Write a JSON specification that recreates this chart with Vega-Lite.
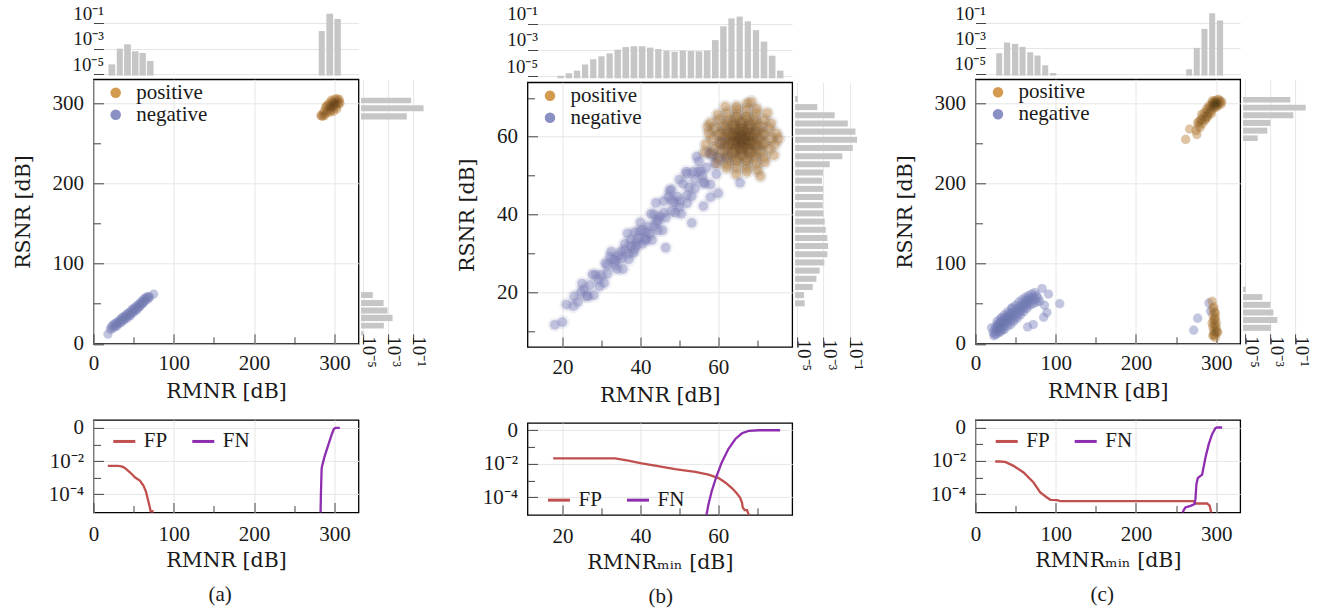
{
"$schema": "https://vega.github.io/schema/vega-lite/v6.json",
"padding": {"left": 11.5, "top": 4, "right": 5, "bottom": 5},
"background": "white",
"config": {
  "font": "Liberation Serif",
  "view": {"stroke": null},
  "axis": {"labelFont": "Liberation Serif", "titleFont": "DejaVu Serif", "labelFontSize": 21, "titleFontSize": 20.5, "titleFontWeight": "normal", "labelColor": "#1a1a1a", "titleColor": "#1a1a1a", "domain": false, "tickColor": "#444444", "gridColor": "#e6e6e6", "labelFlush": false, "labelOverlap": false},
  "legend": {"labelFont": "Liberation Serif", "labelFontSize": 21, "labelColor": "#1a1a1a", "padding": 0, "rowPadding": 0},
  "title": {"font": "Liberation Serif", "fontWeight": "normal", "fontSize": 21, "color": "#1a1a1a"}
},
"datasets": {
  "topA": [{"a":18.7,"b":27.1,"v":5.8e-5},{"a":29,"b":36.5,"v":1.0e-3},{"a":38.1,"b":46.5,"v":2.2e-3},{"a":47.8,"b":56.1,"v":6.2e-4},{"a":57.3,"b":65.2,"v":4.6e-4},{"a":66.5,"b":74.8,"v":1.07e-4},{"a":280.5,"b":288,"v":0.0245},{"a":290,"b":298.4,"v":0.575},{"a":300,"b":308,"v":0.219}],
  "rightA": [{"a":300,"b":307,"v":0.073},{"a":290,"b":297.5,"v":0.72},{"a":280,"b":287.5,"v":0.033},{"a":57.1,"b":64.5,"v":6.3e-5},{"a":47.1,"b":54.6,"v":4.6e-4},{"a":37.8,"b":45.3,"v":9.5e-4},{"a":28.3,"b":36.2,"v":2.4e-3},{"a":19.1,"b":26.2,"v":4.8e-4},{"a":10.4,"b":15.9,"v":1.1e-5}],
  "topB": [{"a":18.7,"b":20.35,"v":1.12e-5},{"a":20.8,"b":22.45,"v":1.7e-5},{"a":22.9,"b":24.55,"v":2.69e-5},{"a":25.0,"b":26.6,"v":7.76e-5},{"a":27.1,"b":28.7,"v":1.95e-4},{"a":29.2,"b":30.8,"v":3.31e-4},{"a":31.3,"b":32.9,"v":5.5e-4},{"a":33.35,"b":35.0,"v":1.05e-3},{"a":35.4,"b":37.1,"v":1.66e-3},{"a":37.5,"b":39.2,"v":1.91e-3},{"a":39.6,"b":41.3,"v":1.91e-3},{"a":41.7,"b":43.35,"v":1.51e-3},{"a":43.8,"b":45.4,"v":1.17e-3},{"a":45.9,"b":47.5,"v":8.9e-4},{"a":48.0,"b":49.6,"v":7.4e-4},{"a":50.1,"b":51.7,"v":8.9e-4},{"a":52.15,"b":53.8,"v":8.3e-4},{"a":54.2,"b":55.9,"v":7.9e-4},{"a":56.3,"b":58.0,"v":8.9e-4},{"a":58.4,"b":60.1,"v":5.6e-3},{"a":60.5,"b":62.15,"v":0.063},{"a":62.6,"b":64.2,"v":0.25},{"a":64.7,"b":66.3,"v":0.34},{"a":66.8,"b":68.4,"v":0.148},{"a":68.9,"b":70.5,"v":0.032},{"a":70.9,"b":72.6,"v":4.3e-3},{"a":73.0,"b":74.7,"v":3.7e-4},{"a":75.1,"b":76.75,"v":2.7e-5}],
  "rightB": [{"a":68.95,"b":70.5,"v":1.12e-5},{"a":66.85,"b":68.4,"v":3.47e-4},{"a":64.75,"b":66.3,"v":7.2e-3},{"a":62.65,"b":64.2,"v":0.071},{"a":60.55,"b":62.1,"v":0.27},{"a":58.45,"b":60.0,"v":0.36},{"a":56.35,"b":57.9,"v":0.17},{"a":54.25,"b":55.8,"v":0.0275},{"a":52.15,"b":53.7,"v":3.0e-3},{"a":50.05,"b":51.6,"v":9.3e-4},{"a":47.95,"b":49.5,"v":7.9e-4},{"a":45.85,"b":47.4,"v":9.3e-4},{"a":43.75,"b":45.3,"v":9.3e-4},{"a":41.65,"b":43.2,"v":8.9e-4},{"a":39.55,"b":41.1,"v":1.0e-3},{"a":37.45,"b":39.0,"v":1.26e-3},{"a":35.35,"b":36.9,"v":1.51e-3},{"a":33.25,"b":34.8,"v":2.0e-3},{"a":31.15,"b":32.7,"v":2.24e-3},{"a":29.05,"b":30.6,"v":2.0e-3},{"a":26.95,"b":28.5,"v":1.17e-3},{"a":24.85,"b":26.4,"v":5.2e-4},{"a":22.75,"b":24.3,"v":2.95e-4},{"a":20.65,"b":22.2,"v":1.55e-4},{"a":18.55,"b":20.1,"v":3.4e-5},{"a":16.45,"b":18.0,"v":3.8e-5}],
  "topC": [{"a":25.8,"b":33.3,"v":4.2e-4},{"a":35.4,"b":43.3,"v":3.0e-3},{"a":45.4,"b":53.3,"v":2.34e-3},{"a":54.9,"b":62.4,"v":1.35e-3},{"a":64.5,"b":72.0,"v":5.0e-4},{"a":73.6,"b":81.1,"v":2.75e-4},{"a":83.2,"b":90.7,"v":4.6e-5},{"a":92.8,"b":100.7,"v":1.12e-5},{"a":262.6,"b":270.1,"v":2.2e-5},{"a":272.1,"b":279.6,"v":1.12e-3},{"a":281.7,"b":289.2,"v":0.037},{"a":291.3,"b":298.8,"v":0.66},{"a":300.8,"b":308.7,"v":0.174}],
  "rightC": [{"a":300.9,"b":308,"v":0.042},{"a":291,"b":298.4,"v":0.71},{"a":281.3,"b":288.8,"v":0.072},{"a":271.8,"b":279.3,"v":1.05e-3},{"a":262.2,"b":269.7,"v":6.0e-4},{"a":253,"b":260,"v":1.02e-4},{"a":64.5,"b":71.2,"v":1.12e-5},{"a":54.6,"b":62,"v":2.4e-4},{"a":44.9,"b":52.4,"v":1.05e-3},{"a":35.3,"b":42.8,"v":1.82e-3},{"a":25.8,"b":33.3,"v":3.8e-3},{"a":16.2,"b":23.7,"v":1.2e-3}],
  "lineA": [
    {"x":17.8,"v":5.13e-3,"s":"FP"},{"x":30,"v":5.1e-3,"s":"FP"},{"x":33.2,"v":5.0e-3,"s":"FP"},{"x":36.5,"v":4.5e-3,"s":"FP"},{"x":39.4,"v":3.72e-3,"s":"FP"},{"x":45.7,"v":2.04e-3,"s":"FP"},{"x":51.9,"v":1.02e-3,"s":"FP"},{"x":58.1,"v":6.46e-4,"s":"FP"},{"x":62.3,"v":3.24e-4,"s":"FP"},{"x":65.2,"v":1.48e-4,"s":"FP"},{"x":67.7,"v":5.0e-5,"s":"FP"},{"x":70.2,"v":1.58e-5,"s":"FP"},{"x":71.4,"v":7.9e-6,"s":"FP"},{"x":72.2,"v":5e-6,"s":"FP"},{"x":73.1,"v":1.1e-5,"s":"FP"},{"x":74.8,"v":5e-6,"s":"FP"},
    {"x":282.4,"v":1e-6,"s":"FN"},{"x":283.2,"v":1e-4,"s":"FN"},{"x":284.1,"v":3.5e-3,"s":"FN"},{"x":284.7,"v":5.1e-3,"s":"FN"},{"x":287.6,"v":1.78e-2,"s":"FN"},{"x":293,"v":0.115,"s":"FN"},{"x":297.1,"v":0.46,"s":"FN"},{"x":299.2,"v":0.83,"s":"FN"},{"x":301.2,"v":1.0,"s":"FN"},{"x":306.7,"v":1.0,"s":"FN"}],
  "lineB": [
    {"x":17.6,"v":0.0209,"s":"FP"},{"x":33.5,"v":0.0209,"s":"FP"},{"x":36.9,"v":0.0151,"s":"FP"},{"x":40.3,"v":0.0105,"s":"FP"},{"x":43.8,"v":7.6e-3,"s":"FP"},{"x":48.9,"v":4.8e-3,"s":"FP"},{"x":54.1,"v":3.3e-3,"s":"FP"},{"x":57.5,"v":2.2e-3,"s":"FP"},{"x":60.1,"v":1.38e-3,"s":"FP"},{"x":61.8,"v":7.6e-4,"s":"FP"},{"x":63.5,"v":3.5e-4,"s":"FP"},{"x":64.8,"v":1.66e-4,"s":"FP"},{"x":65.6,"v":9.5e-5,"s":"FP"},{"x":66.1,"v":4.8e-5,"s":"FP"},{"x":66.3,"v":2.4e-5,"s":"FP"},{"x":66.8,"v":1.66e-5,"s":"FP"},{"x":67.4,"v":1.66e-5,"s":"FP"},{"x":67.8,"v":9.5e-6,"s":"FP"},{"x":68.2,"v":4.8e-6,"s":"FP"},
    {"x":56.7,"v":4e-6,"s":"FN"},{"x":57.5,"v":3.8e-5,"s":"FN"},{"x":58.35,"v":2.4e-4,"s":"FN"},{"x":59.6,"v":1.9e-3,"s":"FN"},{"x":60.9,"v":0.012,"s":"FN"},{"x":62.6,"v":0.076,"s":"FN"},{"x":64.4,"v":0.30,"s":"FN"},{"x":66.1,"v":0.66,"s":"FN"},{"x":67.8,"v":0.91,"s":"FN"},{"x":70.4,"v":1.0,"s":"FN"},{"x":75.9,"v":1.0,"s":"FN"}],
  "lineC": [
    {"x":24.6,"v":9.1e-3,"s":"FP"},{"x":30,"v":9.1e-3,"s":"FP"},{"x":37.1,"v":8.7e-3,"s":"FP"},{"x":47.4,"v":5.0e-3,"s":"FP"},{"x":59.9,"v":2.0e-3,"s":"FP"},{"x":72.4,"v":5.0e-4,"s":"FP"},{"x":80.7,"v":1.26e-4,"s":"FP"},{"x":89.1,"v":6.3e-5,"s":"FP"},{"x":93.2,"v":4.6e-5,"s":"FP"},{"x":101.6,"v":4.4e-5,"s":"FP"},{"x":105.7,"v":3.8e-5,"s":"FP"},{"x":272,"v":3.8e-5,"s":"FP"},{"x":274.2,"v":2.75e-5,"s":"FP"},{"x":288.8,"v":2.75e-5,"s":"FP"},{"x":292,"v":2.0e-5,"s":"FP"},{"x":293.8,"v":7.9e-6,"s":"FP"},{"x":294.5,"v":4e-6,"s":"FP"},
    {"x":257,"v":3e-6,"s":"FN"},{"x":258.3,"v":7.9e-6,"s":"FN"},{"x":259.6,"v":1.1e-5,"s":"FN"},{"x":261.7,"v":1.58e-5,"s":"FN"},{"x":267.9,"v":2.0e-5,"s":"FN"},{"x":272.9,"v":2.5e-5,"s":"FN"},{"x":274.2,"v":5.0e-5,"s":"FN"},{"x":275.4,"v":4.0e-4,"s":"FN"},{"x":277.1,"v":9.1e-4,"s":"FN"},{"x":280.4,"v":1.26e-3,"s":"FN"},{"x":282.5,"v":1.45e-3,"s":"FN"},{"x":286.7,"v":0.0158,"s":"FN"},{"x":290.8,"v":0.1,"s":"FN"},{"x":295,"v":0.4,"s":"FN"},{"x":299.1,"v":0.91,"s":"FN"},{"x":301.2,"v":1.0,"s":"FN"},{"x":307.5,"v":1.0,"s":"FN"}],
  "scatA": [
    {"x":18,"y":12,"c":"negative"},{"x":21,"y":18,"c":"negative"},{"x":22,"y":21,"c":"negative"},{"x":24,"y":19,"c":"negative"},{"x":24,"y":23,"c":"negative"},{"x":26,"y":21,"c":"negative"},{"x":26,"y":25,"c":"negative"},{"x":28,"y":23,"c":"negative"},{"x":28,"y":26,"c":"negative"},{"x":29,"y":22,"c":"negative"},{"x":30,"y":27,"c":"negative"},{"x":31,"y":25,"c":"negative"},{"x":32,"y":29,"c":"negative"},{"x":33,"y":27,"c":"negative"},{"x":34,"y":31,"c":"negative"},{"x":34,"y":26,"c":"negative"},{"x":35,"y":29,"c":"negative"},{"x":36,"y":33,"c":"negative"},{"x":37,"y":30,"c":"negative"},{"x":38,"y":34,"c":"negative"},{"x":38,"y":29,"c":"negative"},{"x":39,"y":32,"c":"negative"},{"x":40,"y":36,"c":"negative"},{"x":41,"y":33,"c":"negative"},{"x":42,"y":37,"c":"negative"},{"x":42,"y":32,"c":"negative"},{"x":43,"y":35,"c":"negative"},{"x":44,"y":39,"c":"negative"},{"x":45,"y":36,"c":"negative"},{"x":46,"y":40,"c":"negative"},{"x":46,"y":35,"c":"negative"},{"x":47,"y":38,"c":"negative"},{"x":48,"y":43,"c":"negative"},{"x":49,"y":40,"c":"negative"},{"x":50,"y":44,"c":"negative"},{"x":50,"y":39,"c":"negative"},{"x":51,"y":42,"c":"negative"},{"x":52,"y":46,"c":"negative"},{"x":53,"y":43,"c":"negative"},{"x":54,"y":47,"c":"negative"},{"x":54,"y":42,"c":"negative"},{"x":55,"y":45,"c":"negative"},{"x":56,"y":49,"c":"negative"},{"x":57,"y":46,"c":"negative"},{"x":58,"y":51,"c":"negative"},{"x":58,"y":47,"c":"negative"},{"x":59,"y":49,"c":"negative"},{"x":60,"y":53,"c":"negative"},{"x":61,"y":50,"c":"negative"},{"x":62,"y":55,"c":"negative"},{"x":62,"y":51,"c":"negative"},{"x":63,"y":53,"c":"negative"},{"x":64,"y":57,"c":"negative"},{"x":65,"y":54,"c":"negative"},{"x":66,"y":57,"c":"negative"},{"x":67,"y":59,"c":"negative"},{"x":68,"y":56,"c":"negative"},{"x":69,"y":59,"c":"negative"},{"x":70,"y":58,"c":"negative"},{"x":75,"y":62,"c":"negative"},
    {"x":284,"y":284,"c":"positive"},{"x":286,"y":287,"c":"positive"},{"x":288,"y":285,"c":"positive"},{"x":287,"y":290,"c":"positive"},{"x":290,"y":288,"c":"positive"},{"x":291,"y":292,"c":"positive"},{"x":289,"y":295,"c":"positive"},{"x":293,"y":290,"c":"positive"},{"x":294,"y":294,"c":"positive"},{"x":292,"y":297,"c":"positive"},{"x":295,"y":298,"c":"positive"},{"x":296,"y":292,"c":"positive"},{"x":297,"y":296,"c":"positive"},{"x":298,"y":300,"c":"positive"},{"x":299,"y":294,"c":"positive"},{"x":300,"y":298,"c":"positive"},{"x":301,"y":302,"c":"positive"},{"x":302,"y":296,"c":"positive"},{"x":303,"y":300,"c":"positive"},{"x":304,"y":304,"c":"positive"},{"x":305,"y":299,"c":"positive"},{"x":306,"y":302,"c":"positive"},{"x":300,"y":305,"c":"positive"},{"x":297,"y":302,"c":"positive"},{"x":293,"y":300,"c":"positive"},{"x":306,"y":305,"c":"positive"},{"x":295,"y":289,"c":"positive"},{"x":299,"y":290,"c":"positive"},{"x":303,"y":293,"c":"positive"},{"x":290,"y":297,"c":"positive"},{"x":286,"y":284,"c":"positive"},{"x":283,"y":285,"c":"positive"},{"x":307,"y":300,"c":"positive"},{"x":303,"y":306,"c":"positive"},{"x":296,"y":304,"c":"positive"},{"x":300,"y":301,"c":"positive"},{"x":298,"y":297,"c":"positive"},{"x":295,"y":295,"c":"positive"},{"x":301,"y":299,"c":"positive"}],
  "scatB": [
    {"x":18,"y":11.7,"c":"negative"},{"x":20,"y":12.4,"c":"negative"},{"x":21,"y":16.9,"c":"negative"},{"x":22.8,"y":16.5,"c":"negative"},{"x":23,"y":19,"c":"negative"},{"x":24,"y":17.6,"c":"negative"},{"x":25,"y":22.3,"c":"negative"},{"x":25.5,"y":20.8,"c":"negative"},{"x":26.5,"y":19,"c":"negative"},{"x":27,"y":21.9,"c":"negative"},{"x":28,"y":19.3,"c":"negative"},{"x":28.5,"y":24.6,"c":"negative"},{"x":29.5,"y":21.6,"c":"negative"},{"x":30,"y":24.5,"c":"negative"},{"x":31,"y":27.5,"c":"negative"},{"x":31.5,"y":24.8,"c":"negative"},{"x":32.5,"y":30.5,"c":"negative"},{"x":33,"y":28.5,"c":"negative"},{"x":34,"y":26,"c":"negative"},{"x":34.5,"y":29.5,"c":"negative"},{"x":35.5,"y":26,"c":"negative"},{"x":36,"y":32.5,"c":"negative"},{"x":37,"y":28.5,"c":"negative"},{"x":37.5,"y":32,"c":"negative"},{"x":38.5,"y":35.5,"c":"negative"},{"x":39,"y":32,"c":"negative"},{"x":40,"y":38,"c":"negative"},{"x":40.5,"y":36,"c":"negative"},{"x":41.5,"y":33.5,"c":"negative"},{"x":42,"y":37,"c":"negative"},{"x":43,"y":33.5,"c":"negative"},{"x":43.5,"y":40,"c":"negative"},{"x":44.5,"y":36,"c":"negative"},{"x":45,"y":39.5,"c":"negative"},{"x":46,"y":43.5,"c":"negative"},{"x":46.5,"y":39.2,"c":"negative"},{"x":47.5,"y":46.2,"c":"negative"},{"x":48,"y":43.7,"c":"negative"},{"x":49,"y":40.5,"c":"negative"},{"x":49.5,"y":44.6,"c":"negative"},{"x":50.5,"y":40.2,"c":"negative"},{"x":51,"y":47.9,"c":"negative"},{"x":52,"y":42.9,"c":"negative"},{"x":52.5,"y":47,"c":"negative"},{"x":53.5,"y":51,"c":"negative"},{"x":54,"y":46.7,"c":"negative"},{"x":55,"y":53.7,"c":"negative"},{"x":55.5,"y":51.2,"c":"negative"},{"x":56.5,"y":48,"c":"negative"},{"x":57,"y":52.1,"c":"negative"},{"x":58,"y":47.7,"c":"negative"},{"x":58.5,"y":55.4,"c":"negative"},{"x":59.5,"y":50.4,"c":"negative"},{"x":60,"y":54.5,"c":"negative"},{"x":61,"y":58.5,"c":"negative"},{"x":62,"y":54.7,"c":"negative"},
    {"x":24.7,"y":20.1,"c":"negative"},{"x":26.2,"y":19.1,"c":"negative"},{"x":27.7,"y":24.6,"c":"negative"},{"x":29.2,"y":23.3,"c":"negative"},{"x":30.7,"y":22.4,"c":"negative"},{"x":32.2,"y":29.2,"c":"negative"},{"x":33.7,"y":28.2,"c":"negative"},{"x":35.2,"y":28.7,"c":"negative"},{"x":36.7,"y":35.2,"c":"negative"},{"x":38.2,"y":30.2,"c":"negative"},{"x":39.7,"y":35.7,"c":"negative"},{"x":41.2,"y":33.7,"c":"negative"},{"x":42.7,"y":40.2,"c":"negative"},{"x":44.2,"y":38.2,"c":"negative"},{"x":45.7,"y":36,"c":"negative"},{"x":47.2,"y":44.7,"c":"negative"},{"x":48.7,"y":43.2,"c":"negative"},{"x":50.2,"y":43.5,"c":"negative"},{"x":51.7,"y":51,"c":"negative"},{"x":53.2,"y":44.7,"c":"negative"},{"x":54.7,"y":51,"c":"negative"},{"x":56.2,"y":48.3,"c":"negative"},{"x":57.7,"y":55.8,"c":"negative"},{"x":59.2,"y":53.1,"c":"negative"},
    {"x":36,"y":31,"c":"negative"},{"x":37.5,"y":33.5,"c":"negative"},{"x":38.5,"y":31,"c":"negative"},{"x":39.5,"y":34,"c":"negative"},{"x":40.5,"y":32.5,"c":"negative"},{"x":41.5,"y":35.5,"c":"negative"},{"x":42.5,"y":35,"c":"negative"},{"x":35,"y":30.5,"c":"negative"},{"x":37,"y":30,"c":"negative"},{"x":39,"y":33,"c":"negative"},{"x":43.5,"y":37,"c":"negative"},{"x":44.5,"y":38.5,"c":"negative"},{"x":33.5,"y":27,"c":"negative"},{"x":46,"y":40.5,"c":"negative"},{"x":48,"y":41,"c":"negative"},{"x":50,"y":42,"c":"negative"},{"x":52,"y":45,"c":"negative"},{"x":54,"y":49,"c":"negative"},{"x":56,"y":50,"c":"negative"},{"x":31.5,"y":27,"c":"negative"},
    {"x":46.5,"y":31.5,"c":"negative"},{"x":53.2,"y":37.9,"c":"negative"},{"x":56.2,"y":42.2,"c":"negative"},{"x":65.6,"y":48.2,"c":"negative"},{"x":54.5,"y":54.9,"c":"negative"},{"x":48,"y":46.5,"c":"negative"},{"x":44,"y":43,"c":"negative"},{"x":50,"y":49,"c":"negative"},{"x":52,"y":50.5,"c":"negative"},{"x":60,"y":45.5,"c":"negative"},{"x":58,"y":44.5,"c":"negative"},
    {"x":66,"y":59.5,"c":"positive"},
    {"x":66.57,"y":60.07,"c":"positive"},{"x":65.43,"y":60.07,"c":"positive"},{"x":65.43,"y":58.93,"c":"positive"},{"x":66.57,"y":58.93,"c":"positive"},
    {"x":68.6,"y":59.5,"c":"positive"},{"x":67.84,"y":61.34,"c":"positive"},{"x":66,"y":62.1,"c":"positive"},{"x":64.16,"y":61.34,"c":"positive"},{"x":63.4,"y":59.5,"c":"positive"},{"x":64.16,"y":57.66,"c":"positive"},{"x":66,"y":56.9,"c":"positive"},{"x":67.84,"y":57.66,"c":"positive"},
    {"x":69.61,"y":60.67,"c":"positive"},{"x":68.23,"y":62.57,"c":"positive"},{"x":66,"y":63.3,"c":"positive"},{"x":63.77,"y":62.57,"c":"positive"},{"x":62.39,"y":60.67,"c":"positive"},{"x":62.39,"y":58.33,"c":"positive"},{"x":63.77,"y":56.43,"c":"positive"},{"x":66,"y":55.7,"c":"positive"},{"x":68.23,"y":56.43,"c":"positive"},{"x":69.61,"y":58.33,"c":"positive"},
    {"x":67.5,"y":59.5,"c":"positive"},{"x":66.75,"y":60.8,"c":"positive"},{"x":65.25,"y":60.8,"c":"positive"},{"x":64.5,"y":59.5,"c":"positive"},{"x":65.25,"y":58.2,"c":"positive"},{"x":66.75,"y":58.2,"c":"positive"},
    {"x":68.8,"y":60.6,"c":"positive"},{"x":67.2,"y":62.3,"c":"positive"},{"x":64.9,"y":62.3,"c":"positive"},{"x":63.2,"y":60.6,"c":"positive"},{"x":63.2,"y":58.4,"c":"positive"},{"x":64.9,"y":56.7,"c":"positive"},{"x":67.2,"y":56.7,"c":"positive"},{"x":68.8,"y":58.4,"c":"positive"},
    {"x":70.5,"y":59.5,"c":"positive"},{"x":69.9,"y":61.8,"c":"positive"},{"x":68.3,"y":63.4,"c":"positive"},{"x":66,"y":64,"c":"positive"},{"x":63.8,"y":63.4,"c":"positive"},{"x":62.1,"y":61.8,"c":"positive"},{"x":61.5,"y":59.5,"c":"positive"},{"x":62.1,"y":57.3,"c":"positive"},{"x":63.8,"y":55.6,"c":"positive"},{"x":66,"y":55,"c":"positive"},{"x":68.3,"y":55.6,"c":"positive"},{"x":69.9,"y":57.3,"c":"positive"},
    {"x":71.9,"y":60.7,"c":"positive"},{"x":71,"y":62.8,"c":"positive"},{"x":69.3,"y":64.5,"c":"positive"},{"x":67.2,"y":65.4,"c":"positive"},{"x":64.8,"y":65.4,"c":"positive"},{"x":62.7,"y":64.5,"c":"positive"},{"x":61,"y":62.8,"c":"positive"},{"x":60.1,"y":60.7,"c":"positive"},{"x":60.1,"y":58.3,"c":"positive"},{"x":61,"y":56.2,"c":"positive"},{"x":62.7,"y":54.5,"c":"positive"},{"x":64.8,"y":53.6,"c":"positive"},{"x":67.2,"y":53.6,"c":"positive"},{"x":69.3,"y":54.5,"c":"positive"},{"x":71,"y":56.2,"c":"positive"},{"x":71.9,"y":58.3,"c":"positive"},
    {"x":73.5,"y":59.5,"c":"positive"},{"x":73.05,"y":62.1,"c":"positive"},{"x":71.75,"y":64.3,"c":"positive"},{"x":69.75,"y":66,"c":"positive"},{"x":67.3,"y":66.9,"c":"positive"},{"x":64.7,"y":66.9,"c":"positive"},{"x":62.25,"y":66,"c":"positive"},{"x":60.25,"y":64.3,"c":"positive"},{"x":58.95,"y":62.1,"c":"positive"},{"x":58.5,"y":59.5,"c":"positive"},{"x":58.95,"y":56.9,"c":"positive"},{"x":60.25,"y":54.7,"c":"positive"},{"x":62.25,"y":53,"c":"positive"},{"x":64.7,"y":52.1,"c":"positive"},{"x":67.3,"y":52.1,"c":"positive"},{"x":69.75,"y":53,"c":"positive"},{"x":71.75,"y":54.7,"c":"positive"},{"x":73.05,"y":56.9,"c":"positive"},
    {"x":74.9,"y":60.9,"c":"positive"},{"x":73.6,"y":63.4,"c":"positive"},{"x":72.6,"y":66.1,"c":"positive"},{"x":69.9,"y":67.2,"c":"positive"},{"x":67.4,"y":68.5,"c":"positive"},{"x":64.7,"y":67.8,"c":"positive"},{"x":61.8,"y":67.7,"c":"positive"},{"x":59.85,"y":65.65,"c":"positive"},{"x":58,"y":63.6,"c":"positive"},{"x":57.6,"y":60.8,"c":"positive"},{"x":56.8,"y":58.05,"c":"positive"},{"x":58.3,"y":55.6,"c":"positive"},{"x":59.7,"y":53.2,"c":"positive"},{"x":62.2,"y":52,"c":"positive"},{"x":64.6,"y":50.4,"c":"positive"},{"x":67.35,"y":51,"c":"positive"},{"x":70.1,"y":51.5,"c":"positive"},{"x":72,"y":53.5,"c":"positive"},{"x":74.3,"y":55.3,"c":"positive"},{"x":74.6,"y":58.1,"c":"positive"},
    {"x":67.9,"y":60.6,"c":"positive"},{"x":66,"y":61.7,"c":"positive"},{"x":64.1,"y":60.6,"c":"positive"},{"x":64.1,"y":58.4,"c":"positive"},{"x":66,"y":57.3,"c":"positive"},{"x":67.9,"y":58.4,"c":"positive"},
    {"x":71.1,"y":60.9,"c":"positive"},{"x":69.75,"y":63.25,"c":"positive"},{"x":67.4,"y":64.6,"c":"positive"},{"x":64.6,"y":64.6,"c":"positive"},{"x":62.25,"y":63.25,"c":"positive"},{"x":60.9,"y":60.9,"c":"positive"},{"x":60.9,"y":58.1,"c":"positive"},{"x":62.25,"y":55.75,"c":"positive"},{"x":64.6,"y":54.4,"c":"positive"},{"x":67.4,"y":54.4,"c":"positive"},{"x":69.75,"y":55.75,"c":"positive"},{"x":71.1,"y":58.1,"c":"positive"},
    {"x":70.8,"y":49.9,"c":"positive"},{"x":56.5,"y":56,"c":"positive"},{"x":75.5,"y":59.5,"c":"positive"},{"x":57.3,"y":62.5,"c":"positive"},{"x":68.5,"y":69,"c":"positive"}],
  "scatC": [
    {"x":22,"y":14,"c":"negative"},{"x":24,"y":18,"c":"negative"},{"x":25,"y":22,"c":"negative"},{"x":26,"y":16,"c":"negative"},{"x":27,"y":20,"c":"negative"},{"x":28,"y":25,"c":"negative"},{"x":29,"y":18,"c":"negative"},{"x":30,"y":22,"c":"negative"},{"x":31,"y":27,"c":"negative"},{"x":32,"y":20,"c":"negative"},{"x":33,"y":24,"c":"negative"},{"x":34,"y":29,"c":"negative"},{"x":35,"y":22,"c":"negative"},{"x":36,"y":27,"c":"negative"},{"x":37,"y":32,"c":"negative"},{"x":38,"y":25,"c":"negative"},{"x":39,"y":30,"c":"negative"},{"x":40,"y":34,"c":"negative"},{"x":41,"y":27,"c":"negative"},{"x":42,"y":32,"c":"negative"},{"x":43,"y":37,"c":"negative"},{"x":44,"y":29,"c":"negative"},{"x":45,"y":35,"c":"negative"},{"x":46,"y":39,"c":"negative"},{"x":47,"y":31,"c":"negative"},{"x":48,"y":37,"c":"negative"},{"x":49,"y":42,"c":"negative"},{"x":50,"y":34,"c":"negative"},{"x":51,"y":40,"c":"negative"},{"x":52,"y":44,"c":"negative"},{"x":53,"y":37,"c":"negative"},{"x":54,"y":42,"c":"negative"},{"x":55,"y":47,"c":"negative"},{"x":56,"y":40,"c":"negative"},{"x":57,"y":45,"c":"negative"},{"x":58,"y":49,"c":"negative"},{"x":59,"y":43,"c":"negative"},{"x":60,"y":48,"c":"negative"},{"x":61,"y":52,"c":"negative"},{"x":62,"y":46,"c":"negative"},{"x":63,"y":51,"c":"negative"},{"x":64,"y":55,"c":"negative"},{"x":65,"y":49,"c":"negative"},{"x":66,"y":54,"c":"negative"},{"x":67,"y":57,"c":"negative"},{"x":68,"y":52,"c":"negative"},{"x":70,"y":56,"c":"negative"},{"x":72,"y":59,"c":"negative"},{"x":74,"y":55,"c":"negative"},{"x":76,"y":60,"c":"negative"},{"x":78,"y":57,"c":"negative"},{"x":80,"y":53,"c":"negative"},{"x":83,"y":69,"c":"negative"},{"x":91,"y":62,"c":"negative"},{"x":105,"y":50,"c":"negative"},{"x":89,"y":39,"c":"negative"},{"x":85,"y":33,"c":"negative"},{"x":72,"y":24,"c":"negative"},{"x":65,"y":21,"c":"negative"},{"x":86,"y":48,"c":"negative"},{"x":35,"y":30,"c":"negative"},{"x":38,"y":28,"c":"negative"},{"x":41,"y":33,"c":"negative"},{"x":30,"y":25,"c":"negative"},{"x":24,"y":12,"c":"negative"},{"x":20,"y":20,"c":"negative"},{"x":33,"y":33,"c":"negative"},{"x":45,"y":44,"c":"negative"},{"x":28,"y":15,"c":"negative"},
    {"x":23,"y":10,"c":"negative"},{"x":26,"y":12,"c":"negative"},{"x":30,"y":14,"c":"negative"},{"x":34,"y":18,"c":"negative"},{"x":27,"y":28,"c":"negative"},{"x":31,"y":31,"c":"negative"},{"x":36,"y":36,"c":"negative"},{"x":40,"y":40,"c":"negative"},{"x":44,"y":24,"c":"negative"},{"x":48,"y":28,"c":"negative"},{"x":52,"y":32,"c":"negative"},{"x":56,"y":36,"c":"negative"},{"x":60,"y":40,"c":"negative"},{"x":64,"y":44,"c":"negative"},{"x":68,"y":48,"c":"negative"},{"x":72,"y":50,"c":"negative"},{"x":76,"y":52,"c":"negative"},{"x":70,"y":62,"c":"negative"},{"x":74,"y":64,"c":"negative"},{"x":66,"y":60,"c":"negative"},{"x":62,"y":58,"c":"negative"},{"x":58,"y":55,"c":"negative"},{"x":54,"y":52,"c":"negative"},{"x":50,"y":48,"c":"negative"},{"x":46,"y":45,"c":"negative"},{"x":40,"y":22,"c":"negative"},{"x":36,"y":18,"c":"negative"},{"x":32,"y":16,"c":"negative"},{"x":42,"y":38,"c":"negative"},{"x":38,"y":33,"c":"negative"},{"x":34,"y":27,"c":"negative"},{"x":30,"y":20,"c":"negative"},{"x":28,"y":22,"c":"negative"},
    {"x":272,"y":17,"c":"negative"},{"x":277,"y":32,"c":"negative"},{"x":291,"y":51,"c":"negative"},{"x":293,"y":41,"c":"negative"},
    {"x":262,"y":255,"c":"positive"},{"x":267,"y":268,"c":"positive"},{"x":276,"y":261,"c":"positive"},{"x":275,"y":266,"c":"positive"},{"x":278,"y":272,"c":"positive"},{"x":279,"y":277,"c":"positive"},{"x":281,"y":280,"c":"positive"},{"x":280,"y":270,"c":"positive"},{"x":283,"y":275,"c":"positive"},{"x":284,"y":283,"c":"positive"},{"x":286,"y":279,"c":"positive"},{"x":285,"y":288,"c":"positive"},{"x":288,"y":284,"c":"positive"},{"x":289,"y":290,"c":"positive"},{"x":290,"y":286,"c":"positive"},{"x":291,"y":293,"c":"positive"},{"x":292,"y":289,"c":"positive"},{"x":293,"y":296,"c":"positive"},{"x":294,"y":291,"c":"positive"},{"x":295,"y":298,"c":"positive"},{"x":296,"y":294,"c":"positive"},{"x":297,"y":300,"c":"positive"},{"x":298,"y":296,"c":"positive"},{"x":299,"y":302,"c":"positive"},{"x":300,"y":298,"c":"positive"},{"x":301,"y":304,"c":"positive"},{"x":302,"y":300,"c":"positive"},{"x":303,"y":305,"c":"positive"},{"x":304,"y":301,"c":"positive"},{"x":305,"y":303,"c":"positive"},{"x":306,"y":299,"c":"positive"},{"x":296,"y":301,"c":"positive"},{"x":299,"y":299,"c":"positive"},{"x":300,"y":295,"c":"positive"},{"x":297,"y":297,"c":"positive"},{"x":298,"y":303,"c":"positive"},{"x":294,"y":287,"c":"positive"},{"x":287,"y":281,"c":"positive"},{"x":282,"y":286,"c":"positive"},{"x":288,"y":293,"c":"positive"},{"x":291,"y":297,"c":"positive"},{"x":302,"y":297,"c":"positive"},{"x":295,"y":303,"c":"positive"},{"x":307,"y":302,"c":"positive"},{"x":289,"y":283,"c":"positive"},{"x":277,"y":276,"c":"positive"},{"x":282,"y":279,"c":"positive"},{"x":300,"y":300,"c":"positive"},{"x":298,"y":299,"c":"positive"},{"x":301,"y":301,"c":"positive"},
    {"x":295,"y":53,"c":"positive"},{"x":297,"y":46,"c":"positive"},{"x":298,"y":40,"c":"positive"},{"x":296,"y":36,"c":"positive"},{"x":299,"y":33,"c":"positive"},{"x":297,"y":29,"c":"positive"},{"x":300,"y":27,"c":"positive"},{"x":298,"y":24,"c":"positive"},{"x":296,"y":21,"c":"positive"},{"x":299,"y":19,"c":"positive"},{"x":297,"y":16,"c":"positive"},{"x":300,"y":14,"c":"positive"},{"x":298,"y":12,"c":"positive"},{"x":296,"y":10,"c":"positive"},{"x":299,"y":8,"c":"positive"},{"x":301,"y":16,"c":"positive"},{"x":295,"y":26,"c":"positive"},{"x":298,"y":31,"c":"positive"},{"x":300,"y":22,"c":"positive"},{"x":297,"y":11,"c":"positive"},{"x":302,"y":14,"c":"positive"},{"x":296,"y":44,"c":"positive"},{"x":299,"y":38,"c":"positive"}]
},
"concat": [
 {
  "concat": [
   {"width": 265, "height": 63.6, "data": {"name": "topA"}, "mark": {"type": "bar", "color": "#c6c6c6"},
    "encoding": {
     "x": {"field": "a", "type": "quantitative", "scale": {"domain": [0, 330], "nice": false, "zero": false}, "axis": null},
     "x2": {"field": "b"},
     "y": {"field": "v", "type": "quantitative", "scale": {"type": "log", "domain": [7.48e-6, 0.783], "nice": false}, "axis": {"values": [0.1, 0.001, 0.00001], "labelExpr": "datum.value > 0.05 ? '10⁻¹' : (datum.value > 0.0005 ? '10⁻³' : '10⁻⁵')", "grid": true, "tickSize": -10, "labelPadding": 0, "labelBaseline": "bottom", "labelFontSize": 19, "title": null}},
     "y2": {"datum": 7.48e-6}}},
   {"width": 1, "height": 1, "data": {"values": [{"z": 0}]}, "mark": {"type": "point", "opacity": 0}},
   {"width": 265, "height": 264.5, "view": {"stroke": "#000000", "strokeWidth": 1.3}, "data": {"name": "scatA"},
    "layer": [
     {"mark": {"type": "circle", "size": 85, "opacity": 0.45},
      "encoding": {
       "x": {"field": "x", "type": "quantitative", "scale": {"domain": [0, 330], "nice": false, "zero": false}, "axis": {"values": [0, 100, 200, 300], "title": "RMNR [dB]", "grid": true, "tickSize": -10, "labelPadding": 19, "titlePadding": 8}},
       "y": {"field": "y", "type": "quantitative", "scale": {"domain": [0, 330], "nice": false, "zero": false}, "axis": {"values": [0, 100, 200, 300], "title": "RSNR [dB]", "grid": true, "tickSize": -10, "labelPadding": 20, "titlePadding": 19}},
       "color": {"field": "c", "type": "nominal", "scale": {"domain": ["positive", "negative"], "range": ["#d49a50", "#8a8fc4"]}, "legend": {"title": null, "orient": "none", "legendX": 11.7, "legendY": 3, "symbolType": "circle", "symbolSize": 110, "symbolOpacity": 1, "symbolStrokeWidth": 0, "labelOffset": 10}}}},
     {"mark": {"type": "circle", "size": 80, "opacity": 0.08},
      "encoding": {
       "x": {"field": "x", "type": "quantitative", "scale": {"domain": [0, 330], "nice": false, "zero": false}, "axis": {"values": [50, 150, 250], "orient": "bottom", "grid": false, "labels": false, "tickSize": -7, "title": null}},
       "y": {"field": "y", "type": "quantitative", "scale": {"domain": [0, 330], "nice": false, "zero": false}, "axis": {"values": [50, 150, 250], "orient": "left", "grid": false, "labels": false, "tickSize": -7, "title": null}},
       "color": {"field": "c", "type": "nominal", "scale": {"domain": ["positive", "negative"], "range": ["#3d2810", "#6a6ea8"]}, "legend": null}}}
    ],
    "resolve": {"scale": {"color": "independent"}, "axis": {"x": "independent", "y": "independent"}}},
   {"width": 63, "height": 264.5, "data": {"name": "rightA"}, "mark": {"type": "bar", "color": "#c6c6c6"},
    "encoding": {
     "y": {"field": "a", "type": "quantitative", "scale": {"domain": [0, 330], "nice": false, "zero": false}, "axis": null},
     "y2": {"field": "b"},
     "x": {"field": "v", "type": "quantitative", "scale": {"type": "log", "domain": [7.3e-6, 0.80], "nice": false}, "axis": {"values": [0.00001, 0.001, 0.1], "labelExpr": "datum.value > 0.05 ? '10⁻¹' : (datum.value > 0.0005 ? '10⁻³' : '10⁻⁵')", "orient": "bottom", "grid": true, "tickSize": -10, "labelPadding": 2, "labelAngle": 90, "labelAlign": "left", "labelBaseline": "alphabetic", "labelFontSize": 19, "title": null}},
     "x2": {"datum": 7.3e-6}}},
   {"width": 1, "height": 68.1, "data": {"values": [{"z": 0}]}, "mark": {"type": "point", "opacity": 0}},
   {"width": 1, "height": 1, "data": {"values": [{"z": 0}]}, "mark": {"type": "point", "opacity": 0}},
   {"width": 265, "height": 92.6, "view": {"stroke": "#000000", "strokeWidth": 1.3}, "data": {"name": "lineA"},
    "layer": [
     {"mark": {"type": "line", "strokeWidth": 2.3, "clip": true},
      "encoding": {
       "x": {"field": "x", "type": "quantitative", "scale": {"domain": [0, 330], "nice": false, "zero": false}, "axis": {"values": [0, 100, 200, 300], "title": "RMNR [dB]", "grid": true, "tickSize": -10, "labelPadding": 21, "titlePadding": 6}},
       "y": {"field": "v", "type": "quantitative", "scale": {"type": "log", "domain": [7.94e-6, 3.02], "nice": false}, "axis": {"values": [1, 0.01, 0.0001], "labelExpr": "datum.value > 0.5 ? '0' : (datum.value > 0.001 ? '10⁻²' : '10⁻⁴')", "title": null, "grid": true, "tickSize": -10, "labelPadding": 20}},
       "color": {"field": "s", "type": "nominal", "scale": {"domain": ["FP", "FN"], "range": ["#c0504d", "#8e2db0"]}, "legend": {"title": null, "orient": "none", "legendX": 18.3, "legendY": 8.8, "direction": "horizontal", "symbolType": "stroke", "symbolSize": 484, "symbolStrokeWidth": 3, "columnPadding": 18, "labelOffset": 7}}}},
     {"mark": {"type": "line", "opacity": 0, "clip": true},
      "encoding": {
       "x": {"field": "x", "type": "quantitative", "scale": {"domain": [0, 330], "nice": false, "zero": false}, "axis": {"values": [50, 150, 250], "orient": "bottom", "grid": false, "labels": false, "tickSize": -7, "title": null}},
       "y": {"field": "v", "type": "quantitative", "scale": {"type": "log", "domain": [7.94e-6, 3.02], "nice": false}, "axis": {"values": [0.1, 0.001], "orient": "left", "grid": false, "labels": false, "tickSize": -7, "title": null}},
       "detail": {"field": "s"}}}
    ],
    "resolve": {"axis": {"x": "independent", "y": "independent"}}},
   {"width": 1, "height": 1, "data": {"values": [{"z": 0}]}, "mark": {"type": "point", "opacity": 0}}
  ],
  "columns": 2, "spacing": {"row": 3.3, "column": 2.6}, "bounds": "flush", "align": "each",
  "resolve": {"scale": {"color": "independent"}, "legend": {"color": "independent"}},
  "title": {"text": "(a)", "orient": "bottom", "anchor": "middle", "offset": 12, "fontSize": 21}
 },
 {
  "concat": [
   {"width": 264.7, "height": 66.3, "data": {"name": "topB"}, "mark": {"type": "bar", "color": "#c6c6c6"},
    "encoding": {
     "x": {"field": "a", "type": "quantitative", "scale": {"domain": [11, 79], "nice": false, "zero": false}, "axis": null},
     "x2": {"field": "b"},
     "y": {"field": "v", "type": "quantitative", "scale": {"type": "log", "domain": [7.05e-6, 0.762], "nice": false}, "axis": {"values": [0.1, 0.001, 0.00001], "labelExpr": "datum.value > 0.05 ? '10⁻¹' : (datum.value > 0.0005 ? '10⁻³' : '10⁻⁵')", "grid": true, "tickSize": -10, "labelPadding": 0, "labelBaseline": "bottom", "labelFontSize": 19, "title": null}},
     "y2": {"datum": 7.05e-6}}},
   {"width": 1, "height": 1, "data": {"values": [{"z": 0}]}, "mark": {"type": "point", "opacity": 0}},
   {"width": 264.7, "height": 264.7, "view": {"stroke": "#000000", "strokeWidth": 1.3}, "data": {"name": "scatB"},
    "layer": [
     {"mark": {"type": "circle", "size": 95, "opacity": 0.45},
      "encoding": {
       "x": {"field": "x", "type": "quantitative", "scale": {"domain": [11, 79], "nice": false, "zero": false}, "axis": {"values": [20, 40, 60], "title": "RMNR [dB]", "grid": true, "tickSize": -10, "labelPadding": 19, "titlePadding": 8}},
       "y": {"field": "y", "type": "quantitative", "scale": {"domain": [6, 74], "nice": false, "zero": false}, "axis": {"values": [20, 40, 60], "title": "RSNR [dB]", "grid": true, "tickSize": -10, "labelPadding": 20, "titlePadding": 19}},
       "color": {"field": "c", "type": "nominal", "scale": {"domain": ["positive", "negative"], "range": ["#d49a50", "#8a8fc4"]}, "legend": {"title": null, "orient": "none", "legendX": 12, "legendY": 3, "symbolType": "circle", "symbolSize": 110, "symbolOpacity": 1, "symbolStrokeWidth": 0, "labelOffset": 10}}}},
     {"mark": {"type": "circle", "size": 200, "opacity": 0.1},
      "encoding": {
       "x": {"field": "x", "type": "quantitative", "scale": {"domain": [11, 79], "nice": false, "zero": false}, "axis": {"values": [30, 50, 70], "orient": "bottom", "grid": false, "labels": false, "tickSize": -7, "title": null}},
       "y": {"field": "y", "type": "quantitative", "scale": {"domain": [6, 74], "nice": false, "zero": false}, "axis": {"values": [10, 30, 50, 70], "orient": "left", "grid": false, "labels": false, "tickSize": -7, "title": null}},
       "color": {"field": "c", "type": "nominal", "scale": {"domain": ["positive", "negative"], "range": ["#3d2810", "#6a6ea8"]}, "legend": null}}}
    ],
    "resolve": {"scale": {"color": "independent"}, "axis": {"x": "independent", "y": "independent"}}},
   {"width": 66.5, "height": 264.7, "data": {"name": "rightB"}, "mark": {"type": "bar", "color": "#c6c6c6"},
    "encoding": {
     "y": {"field": "a", "type": "quantitative", "scale": {"domain": [6, 74], "nice": false, "zero": false}, "axis": null},
     "y2": {"field": "b"},
     "x": {"field": "v", "type": "quantitative", "scale": {"type": "log", "domain": [7.08e-6, 0.794], "nice": false}, "axis": {"values": [0.00001, 0.001, 0.1], "labelExpr": "datum.value > 0.05 ? '10⁻¹' : (datum.value > 0.0005 ? '10⁻³' : '10⁻⁵')", "orient": "bottom", "grid": true, "tickSize": -10, "labelPadding": 2, "labelAngle": 90, "labelAlign": "left", "labelBaseline": "alphabetic", "labelFontSize": 19, "title": null}},
     "x2": {"datum": 7.08e-6}}},
   {"width": 1, "height": 68.4, "data": {"values": [{"z": 0}]}, "mark": {"type": "point", "opacity": 0}},
   {"width": 1, "height": 1, "data": {"values": [{"z": 0}]}, "mark": {"type": "point", "opacity": 0}},
   {"width": 264.7, "height": 92, "view": {"stroke": "#000000", "strokeWidth": 1.3}, "data": {"name": "lineB"},
    "layer": [
     {"mark": {"type": "line", "strokeWidth": 2.3, "clip": true},
      "encoding": {
       "x": {"field": "x", "type": "quantitative", "scale": {"domain": [11, 79], "nice": false, "zero": false}, "axis": {"values": [20, 40, 60], "title": "RMNRₘᵢₙ [dB]", "grid": true, "tickSize": -10, "labelPadding": 21, "titlePadding": 6}},
       "y": {"field": "v", "type": "quantitative", "scale": {"type": "log", "domain": [8.7e-6, 2.75], "nice": false}, "axis": {"values": [1, 0.01, 0.0001], "labelExpr": "datum.value > 0.5 ? '0' : (datum.value > 0.001 ? '10⁻²' : '10⁻⁴')", "title": null, "grid": true, "tickSize": -10, "labelPadding": 20}},
       "color": {"field": "s", "type": "nominal", "scale": {"domain": ["FP", "FN"], "range": ["#c0504d", "#8e2db0"]}, "legend": {"title": null, "orient": "none", "legendX": 19, "legendY": 64.5, "direction": "horizontal", "symbolType": "stroke", "symbolSize": 484, "symbolStrokeWidth": 3, "columnPadding": 18, "labelOffset": 7}}}},
     {"mark": {"type": "line", "opacity": 0, "clip": true},
      "encoding": {
       "x": {"field": "x", "type": "quantitative", "scale": {"domain": [11, 79], "nice": false, "zero": false}, "axis": {"values": [30, 50, 70], "orient": "bottom", "grid": false, "labels": false, "tickSize": -7, "title": null}},
       "y": {"field": "v", "type": "quantitative", "scale": {"type": "log", "domain": [8.7e-6, 2.75], "nice": false}, "axis": {"values": [0.1, 0.001], "orient": "left", "grid": false, "labels": false, "tickSize": -7, "title": null}},
       "detail": {"field": "s"}}}
    ],
    "resolve": {"axis": {"x": "independent", "y": "independent"}}},
   {"width": 1, "height": 1, "data": {"values": [{"z": 0}]}, "mark": {"type": "point", "opacity": 0}}
  ],
  "columns": 2, "spacing": {"row": 3.3, "column": 2.6}, "bounds": "flush", "align": "each",
  "resolve": {"scale": {"color": "independent"}, "legend": {"color": "independent"}},
  "title": {"text": "(b)", "orient": "bottom", "anchor": "middle", "offset": 12, "fontSize": 21}
 },
 {
  "concat": [
   {"width": 264.7, "height": 63.6, "data": {"name": "topC"}, "mark": {"type": "bar", "color": "#c6c6c6"},
    "encoding": {
     "x": {"field": "a", "type": "quantitative", "scale": {"domain": [0, 330], "nice": false, "zero": false}, "axis": null},
     "x2": {"field": "b"},
     "y": {"field": "v", "type": "quantitative", "scale": {"type": "log", "domain": [6.8e-6, 0.83], "nice": false}, "axis": {"values": [0.1, 0.001, 0.00001], "labelExpr": "datum.value > 0.05 ? '10⁻¹' : (datum.value > 0.0005 ? '10⁻³' : '10⁻⁵')", "grid": true, "tickSize": -10, "labelPadding": 0, "labelBaseline": "bottom", "labelFontSize": 19, "title": null}},
     "y2": {"datum": 6.8e-6}}},
   {"width": 1, "height": 1, "data": {"values": [{"z": 0}]}, "mark": {"type": "point", "opacity": 0}},
   {"width": 264.7, "height": 264.5, "view": {"stroke": "#000000", "strokeWidth": 1.3}, "data": {"name": "scatC"},
    "layer": [
     {"mark": {"type": "circle", "size": 85, "opacity": 0.45},
      "encoding": {
       "x": {"field": "x", "type": "quantitative", "scale": {"domain": [0, 330], "nice": false, "zero": false}, "axis": {"values": [0, 100, 200, 300], "title": "RMNR [dB]", "grid": true, "tickSize": -10, "labelPadding": 19, "titlePadding": 8}},
       "y": {"field": "y", "type": "quantitative", "scale": {"domain": [0, 330], "nice": false, "zero": false}, "axis": {"values": [0, 100, 200, 300], "title": "RSNR [dB]", "grid": true, "tickSize": -10, "labelPadding": 20, "titlePadding": 19}},
       "color": {"field": "c", "type": "nominal", "scale": {"domain": ["positive", "negative"], "range": ["#d49a50", "#8a8fc4"]}, "legend": {"title": null, "orient": "none", "legendX": 12, "legendY": 2.5, "symbolType": "circle", "symbolSize": 110, "symbolOpacity": 1, "symbolStrokeWidth": 0, "labelOffset": 10}}}},
     {"mark": {"type": "circle", "size": 100, "opacity": 0.07},
      "encoding": {
       "x": {"field": "x", "type": "quantitative", "scale": {"domain": [0, 330], "nice": false, "zero": false}, "axis": {"values": [50, 150, 250], "orient": "bottom", "grid": false, "labels": false, "tickSize": -7, "title": null}},
       "y": {"field": "y", "type": "quantitative", "scale": {"domain": [0, 330], "nice": false, "zero": false}, "axis": {"values": [50, 150, 250], "orient": "left", "grid": false, "labels": false, "tickSize": -7, "title": null}},
       "color": {"field": "c", "type": "nominal", "scale": {"domain": ["positive", "negative"], "range": ["#3d2810", "#6a6ea8"]}, "legend": null}}}
    ],
    "resolve": {"scale": {"color": "independent"}, "axis": {"x": "independent", "y": "independent"}}},
   {"width": 63, "height": 264.5, "data": {"name": "rightC"}, "mark": {"type": "bar", "color": "#c6c6c6"},
    "encoding": {
     "y": {"field": "a", "type": "quantitative", "scale": {"domain": [0, 330], "nice": false, "zero": false}, "axis": null},
     "y2": {"field": "b"},
     "x": {"field": "v", "type": "quantitative", "scale": {"type": "log", "domain": [6.9e-6, 0.76], "nice": false}, "axis": {"values": [0.00001, 0.001, 0.1], "labelExpr": "datum.value > 0.05 ? '10⁻¹' : (datum.value > 0.0005 ? '10⁻³' : '10⁻⁵')", "orient": "bottom", "grid": true, "tickSize": -10, "labelPadding": 2, "labelAngle": 90, "labelAlign": "left", "labelBaseline": "alphabetic", "labelFontSize": 19, "title": null}},
     "x2": {"datum": 6.9e-6}}},
   {"width": 1, "height": 68.1, "data": {"values": [{"z": 0}]}, "mark": {"type": "point", "opacity": 0}},
   {"width": 1, "height": 1, "data": {"values": [{"z": 0}]}, "mark": {"type": "point", "opacity": 0}},
   {"width": 264.7, "height": 92.6, "view": {"stroke": "#000000", "strokeWidth": 1.3}, "data": {"name": "lineC"},
    "layer": [
     {"mark": {"type": "line", "strokeWidth": 2.3, "clip": true},
      "encoding": {
       "x": {"field": "x", "type": "quantitative", "scale": {"domain": [0, 330], "nice": false, "zero": false}, "axis": {"values": [0, 100, 200, 300], "title": "RMNRₘᵢₙ [dB]", "grid": true, "tickSize": -10, "labelPadding": 21, "titlePadding": 6}},
       "y": {"field": "v", "type": "quantitative", "scale": {"type": "log", "domain": [7.94e-6, 2.86], "nice": false}, "axis": {"values": [1, 0.01, 0.0001], "labelExpr": "datum.value > 0.5 ? '0' : (datum.value > 0.001 ? '10⁻²' : '10⁻⁴')", "title": null, "grid": true, "tickSize": -10, "labelPadding": 20}},
       "color": {"field": "s", "type": "nominal", "scale": {"domain": ["FP", "FN"], "range": ["#c0504d", "#8e2db0"]}, "legend": {"title": null, "orient": "none", "legendX": 18.7, "legendY": 8.8, "direction": "horizontal", "symbolType": "stroke", "symbolSize": 484, "symbolStrokeWidth": 3, "columnPadding": 18, "labelOffset": 7}}}},
     {"mark": {"type": "line", "opacity": 0, "clip": true},
      "encoding": {
       "x": {"field": "x", "type": "quantitative", "scale": {"domain": [0, 330], "nice": false, "zero": false}, "axis": {"values": [50, 150, 250], "orient": "bottom", "grid": false, "labels": false, "tickSize": -7, "title": null}},
       "y": {"field": "v", "type": "quantitative", "scale": {"type": "log", "domain": [7.94e-6, 2.86], "nice": false}, "axis": {"values": [0.1, 0.001], "orient": "left", "grid": false, "labels": false, "tickSize": -7, "title": null}},
       "detail": {"field": "s"}}}
    ],
    "resolve": {"axis": {"x": "independent", "y": "independent"}}},
   {"width": 1, "height": 1, "data": {"values": [{"z": 0}]}, "mark": {"type": "point", "opacity": 0}}
  ],
  "columns": 2, "spacing": {"row": 3.3, "column": 2.6}, "bounds": "flush", "align": "each",
  "resolve": {"scale": {"color": "independent"}, "legend": {"color": "independent"}},
  "title": {"text": "(c)", "orient": "bottom", "anchor": "middle", "offset": 12, "fontSize": 21}
 }
],
"columns": 3,
"spacing": 28,
"align": "each",
"resolve": {"scale": {"color": "independent"}, "legend": {"color": "independent"}}
}
